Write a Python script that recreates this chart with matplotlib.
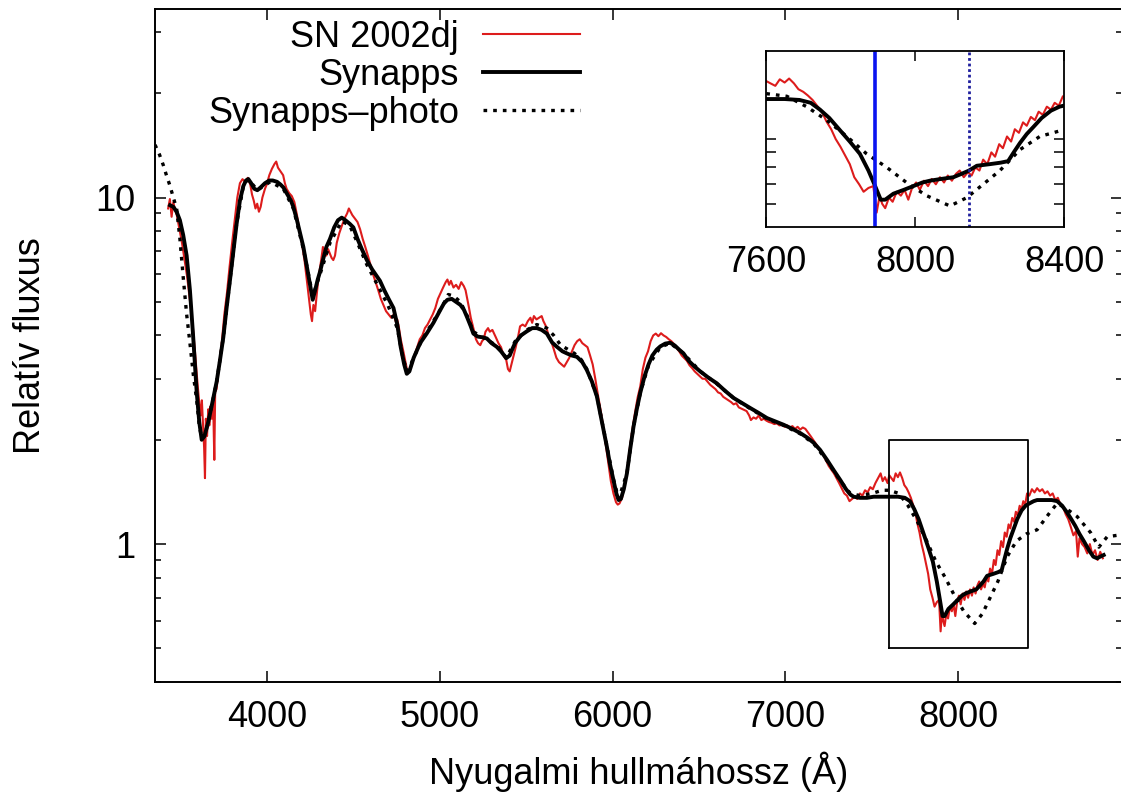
import matplotlib
matplotlib.use("Agg")
import matplotlib.pyplot as plt
from matplotlib.ticker import LogLocator, NullFormatter, FixedLocator, ScalarFormatter

plt.rcParams["font.family"] = ["Liberation Sans", "DejaVu Sans"]

sn2002dj = [
    (3430, 9.3), (3440, 9.9), (3450, 8.8), (3460, 9.7), (3470, 9.2), (3480, 8.9),
    (3495, 8.1), (3510, 7.4), (3525, 6.6), (3540, 5.9), (3555, 5.1), (3570, 4.4),
    (3585, 3.6), (3600, 2.9), (3610, 2.55), (3618, 2.35), (3625, 2.6), (3632, 2.2),
    (3638, 1.9), (3643, 1.55), (3648, 2.3), (3655, 2.05), (3662, 2.45), (3668, 2.2),
    (3675, 2.5), (3682, 2.3), (3690, 2.6), (3697, 1.75), (3702, 2.75), (3710, 2.8),
    (3725, 3.3), (3740, 3.8), (3755, 4.6), (3770, 5.3), (3785, 6.3), (3800, 7.4),
    (3815, 8.6), (3830, 10.0), (3845, 11.0), (3860, 11.3), (3875, 11.1), (3890, 11.4),
    (3905, 10.9), (3915, 10.2), (3925, 9.8), (3935, 9.3), (3945, 9.6), (3955, 9.1),
    (3965, 9.4), (3975, 10.0), (3990, 10.6), (4000, 10.9), (4015, 11.6), (4030, 12.1),
    (4045, 12.5), (4055, 12.7), (4065, 12.2), (4080, 11.9), (4095, 11.6), (4105, 11.0),
    (4115, 10.6), (4130, 10.3), (4145, 10.1), (4160, 9.7), (4175, 8.9), (4190, 8.0),
    (4205, 7.3), (4220, 6.5), (4235, 5.6), (4245, 5.1), (4255, 4.6), (4262, 4.4),
    (4270, 4.9), (4280, 4.7), (4290, 5.3), (4300, 5.9), (4315, 6.6), (4325, 7.2),
    (4335, 7.0), (4345, 6.8), (4355, 7.1), (4365, 6.9), (4375, 6.7), (4385, 6.6),
    (4395, 6.8), (4405, 7.4), (4420, 7.9), (4435, 8.3), (4450, 8.7), (4465, 9.0),
    (4475, 9.3), (4485, 9.1), (4495, 8.9), (4510, 8.7), (4525, 8.5), (4540, 8.1),
    (4555, 7.6), (4570, 7.2), (4585, 6.8), (4600, 6.4), (4615, 6.0), (4630, 5.7),
    (4645, 5.4), (4660, 5.1), (4675, 4.9), (4690, 4.7), (4705, 4.6), (4720, 4.5),
    (4735, 4.6), (4745, 4.4), (4755, 4.45), (4765, 4.2), (4775, 3.9), (4790, 3.6),
    (4805, 3.3), (4815, 3.12), (4825, 3.15), (4840, 3.3), (4855, 3.5), (4870, 3.7),
    (4885, 3.9), (4900, 4.0), (4915, 4.2), (4930, 4.3), (4945, 4.45), (4960, 4.6),
    (4975, 4.8), (4990, 5.1), (5005, 5.3), (5020, 5.5), (5035, 5.7), (5045, 5.8),
    (5055, 5.6), (5065, 5.75), (5080, 5.5), (5095, 5.6), (5110, 5.45), (5125, 5.7),
    (5140, 5.55), (5150, 5.4), (5160, 5.1), (5170, 4.8), (5180, 4.5), (5195, 4.2),
    (5210, 3.9), (5222, 3.8), (5235, 3.75), (5245, 3.85), (5255, 3.9), (5265, 4.1),
    (5280, 4.2), (5290, 4.1), (5305, 4.15), (5315, 4.05), (5325, 3.95), (5340, 3.8),
    (5355, 3.7), (5370, 3.5), (5385, 3.4), (5395, 3.2), (5405, 3.15), (5415, 3.3),
    (5425, 3.45), (5440, 3.7), (5455, 4.0), (5465, 4.25), (5480, 4.3), (5495, 4.25),
    (5510, 4.4), (5525, 4.5), (5535, 4.35), (5545, 4.55), (5560, 4.45), (5575, 4.5),
    (5590, 4.55), (5600, 4.4), (5615, 4.25), (5630, 4.0), (5645, 3.85), (5660, 3.65),
    (5675, 3.45), (5690, 3.35), (5705, 3.3), (5720, 3.25), (5735, 3.35), (5750, 3.45),
    (5765, 3.6), (5780, 3.75), (5795, 3.85), (5810, 3.9), (5825, 3.8), (5840, 3.75),
    (5855, 3.7), (5870, 3.5), (5885, 3.3), (5900, 3.0), (5915, 2.7), (5930, 2.45),
    (5945, 2.2), (5960, 1.95), (5975, 1.72), (5990, 1.52), (6005, 1.40), (6020, 1.32),
    (6030, 1.30), (6040, 1.31), (6055, 1.36), (6070, 1.48), (6085, 1.65), (6100, 1.9),
    (6115, 2.15), (6130, 2.4), (6145, 2.65), (6160, 2.85), (6175, 3.2), (6190, 3.45),
    (6205, 3.6), (6220, 3.85), (6235, 4.0), (6250, 4.05), (6265, 3.98), (6280, 4.06),
    (6295, 4.0), (6310, 3.96), (6325, 3.9), (6340, 3.85), (6355, 3.78), (6370, 3.68),
    (6385, 3.6), (6400, 3.5), (6415, 3.44), (6430, 3.38), (6445, 3.28), (6460, 3.22),
    (6475, 3.15), (6490, 3.1), (6505, 3.05), (6520, 3.0), (6535, 3.0), (6550, 2.94),
    (6565, 2.88), (6580, 2.84), (6595, 2.8), (6610, 2.74), (6625, 2.72), (6640, 2.66),
    (6655, 2.63), (6670, 2.6), (6685, 2.57), (6700, 2.53), (6715, 2.55), (6730, 2.48),
    (6745, 2.46), (6760, 2.44), (6775, 2.42), (6790, 2.35), (6800, 2.28), (6815, 2.32),
    (6830, 2.3), (6845, 2.35), (6860, 2.28), (6875, 2.3), (6890, 2.27), (6905, 2.25),
    (6920, 2.24), (6935, 2.22), (6950, 2.23), (6965, 2.2), (6980, 2.21), (6995, 2.18),
    (7010, 2.2), (7025, 2.17), (7040, 2.19), (7055, 2.15), (7070, 2.18), (7085, 2.14),
    (7100, 2.17), (7115, 2.15), (7130, 2.1), (7145, 2.05), (7160, 2.0), (7175, 1.95),
    (7190, 1.9), (7205, 1.85), (7220, 1.8), (7235, 1.74), (7250, 1.68), (7265, 1.64),
    (7280, 1.6), (7295, 1.55), (7310, 1.5), (7325, 1.45), (7340, 1.40), (7355, 1.38),
    (7370, 1.33), (7385, 1.35), (7400, 1.37), (7415, 1.35), (7430, 1.40), (7445, 1.38),
    (7460, 1.43), (7475, 1.41), (7490, 1.46), (7505, 1.44), (7520, 1.50), (7535, 1.55),
    (7550, 1.60), (7562, 1.52), (7575, 1.56), (7590, 1.50), (7600, 1.58), (7612, 1.55),
    (7625, 1.52), (7637, 1.60), (7650, 1.56), (7662, 1.61), (7675, 1.55), (7687, 1.48),
    (7700, 1.45), (7712, 1.41), (7725, 1.36), (7737, 1.30), (7750, 1.24), (7762, 1.15),
    (7775, 1.08), (7787, 1.00), (7800, 0.94), (7812, 0.88), (7825, 0.82), (7837, 0.74),
    (7850, 0.70), (7862, 0.66), (7875, 0.68), (7888, 0.69), (7897, 0.56), (7905, 0.64),
    (7912, 0.60), (7920, 0.58), (7930, 0.63), (7940, 0.61), (7951, 0.66), (7962, 0.64),
    (7972, 0.67), (7982, 0.62), (7992, 0.68), (8003, 0.71), (8013, 0.67), (8024, 0.72),
    (8035, 0.69), (8045, 0.73), (8056, 0.70), (8067, 0.74), (8078, 0.71), (8088, 0.75),
    (8099, 0.72), (8110, 0.76), (8120, 0.78), (8131, 0.74), (8142, 0.77), (8152, 0.75),
    (8162, 0.80), (8173, 0.78), (8183, 0.85), (8194, 0.82), (8205, 0.90), (8215, 0.87),
    (8226, 0.96), (8236, 0.93), (8247, 1.02), (8258, 0.98), (8268, 1.08), (8279, 1.05),
    (8290, 1.14), (8300, 1.11), (8311, 1.19), (8322, 1.16), (8332, 1.24), (8343, 1.21),
    (8354, 1.29), (8365, 1.26), (8375, 1.33), (8386, 1.30), (8397, 1.40), (8410, 1.38),
    (8425, 1.44), (8440, 1.41), (8455, 1.45), (8470, 1.42), (8485, 1.44), (8500, 1.40),
    (8515, 1.42), (8530, 1.38), (8545, 1.40), (8560, 1.34), (8575, 1.36), (8590, 1.30),
    (8605, 1.28), (8620, 1.22), (8635, 1.18), (8650, 1.12), (8665, 1.06), (8680, 1.09),
    (8690, 0.92), (8700, 1.04), (8715, 1.00), (8730, 0.98), (8745, 0.94), (8760, 1.00),
    (8775, 0.93), (8790, 0.96), (8805, 0.90), (8820, 0.95), (8835, 0.91),
]

# Synapps fit
synapps = [
    (3441, 9.5), (3460, 9.4), (3479, 9.1), (3498, 8.6), (3517, 7.8), (3537, 6.8),
    (3556, 5.4), (3575, 3.95), (3595, 2.75), (3610, 2.25), (3624, 2.0), (3640, 2.05),
    (3662, 2.25), (3685, 2.55), (3711, 2.95), (3730, 3.4), (3749, 3.95), (3768, 4.8),
    (3788, 5.8), (3807, 7.0), (3826, 8.4), (3845, 9.8), (3865, 10.8), (3880, 11.2),
    (3894, 11.3), (3910, 11.0), (3928, 10.6), (3946, 10.5), (3965, 10.7), (3990, 11.0),
    (4015, 11.2), (4035, 11.2), (4060, 11.1), (4080, 10.9), (4096, 10.7), (4120, 10.2),
    (4140, 9.8), (4154, 9.4), (4175, 8.6), (4195, 7.8), (4212, 7.2), (4230, 6.4),
    (4245, 5.8), (4256, 5.4), (4266, 5.07), (4280, 5.4), (4295, 5.8), (4308, 6.1),
    (4325, 6.6), (4345, 7.2), (4366, 7.6), (4390, 8.2), (4412, 8.6), (4434, 8.75),
    (4455, 8.6), (4480, 8.4), (4501, 8.2), (4525, 7.6), (4550, 7.1), (4579, 6.6),
    (4610, 6.2), (4640, 5.9), (4655, 5.75), (4680, 5.4), (4705, 5.1), (4733, 4.8),
    (4755, 4.3), (4775, 3.7), (4795, 3.3), (4810, 3.1), (4825, 3.15), (4850, 3.45),
    (4887, 3.8), (4925, 4.05), (4964, 4.35), (5000, 4.7), (5025, 4.95), (5045, 5.07),
    (5070, 5.1), (5095, 5.0), (5120, 4.9), (5140, 4.75), (5160, 4.5), (5180, 4.25),
    (5195, 4.05), (5220, 3.97), (5250, 3.95), (5273, 3.92), (5300, 3.8), (5330, 3.71),
    (5355, 3.6), (5385, 3.44), (5405, 3.5), (5420, 3.65), (5437, 3.81), (5470, 4.0),
    (5504, 4.11), (5535, 4.2), (5562, 4.2), (5590, 4.15), (5620, 4.05), (5650, 3.82),
    (5678, 3.71), (5710, 3.6), (5736, 3.55), (5765, 3.5), (5794, 3.47), (5825, 3.35),
    (5851, 3.18), (5880, 2.95), (5909, 2.67), (5935, 2.3), (5955, 2.05), (5967, 1.91),
    (5985, 1.70), (6005, 1.53), (6022, 1.40), (6035, 1.34), (6048, 1.35), (6065, 1.44),
    (6083, 1.60), (6100, 1.85), (6121, 2.18), (6140, 2.45), (6160, 2.73), (6185, 3.05),
    (6208, 3.3), (6230, 3.5), (6255, 3.64), (6276, 3.72), (6305, 3.79), (6333, 3.81),
    (6360, 3.74), (6385, 3.64), (6410, 3.55), (6440, 3.38), (6475, 3.25), (6507, 3.15),
    (6555, 3.02), (6603, 2.91), (6650, 2.77), (6700, 2.64), (6750, 2.55), (6796, 2.47),
    (6845, 2.39), (6893, 2.31), (6940, 2.26), (6989, 2.21), (7040, 2.15), (7086, 2.09),
    (7125, 2.03), (7163, 1.96), (7200, 1.87), (7240, 1.75), (7280, 1.63), (7317, 1.53),
    (7350, 1.44), (7375, 1.39), (7394, 1.37), (7430, 1.36), (7471, 1.36), (7510, 1.37),
    (7549, 1.37), (7580, 1.37), (7607, 1.37), (7650, 1.37), (7690, 1.36), (7720, 1.33),
    (7745, 1.26), (7770, 1.18), (7799, 1.07), (7825, 0.98), (7852, 0.89), (7875, 0.78),
    (7893, 0.69), (7908, 0.62), (7920, 0.62), (7942, 0.65), (7970, 0.67), (7995, 0.69),
    (8020, 0.71), (8040, 0.72), (8070, 0.73), (8103, 0.74), (8125, 0.76), (8145, 0.78),
    (8166, 0.81), (8200, 0.82), (8230, 0.83), (8250, 0.84), (8265, 0.90), (8282, 0.97),
    (8300, 1.04), (8318, 1.10), (8340, 1.18), (8365, 1.25), (8388, 1.29), (8410, 1.31),
    (8435, 1.33), (8455, 1.34), (8500, 1.34), (8540, 1.34), (8571, 1.33), (8600, 1.29),
    (8625, 1.24), (8648, 1.19), (8675, 1.13), (8700, 1.07), (8725, 1.02), (8755, 0.96),
    (8780, 0.92), (8802, 0.91), (8820, 0.92), (8840, 0.93),
]

# Synapps fit with photospheric component only
synapps_photo = [
    (3354, 14.2), (3380, 13.3), (3402, 12.4), (3420, 11.6), (3441, 10.8), (3460, 10.0),
    (3479, 9.3), (3498, 7.6), (3517, 5.9), (3537, 4.6), (3556, 3.8), (3575, 3.1),
    (3595, 2.6), (3610, 2.2), (3624, 2.02), (3640, 2.05), (3662, 2.25), (3685, 2.55),
    (3711, 2.95), (3749, 3.95), (3788, 5.8), (3826, 8.4), (3865, 10.8), (3894, 11.3),
    (3946, 10.5), (4020, 11.1), (4096, 10.6), (4154, 9.3), (4212, 7.1), (4245, 5.9),
    (4266, 5.2), (4308, 6.0), (4366, 7.4), (4434, 8.55), (4480, 8.3), (4525, 7.4),
    (4579, 6.4), (4640, 5.6), (4700, 4.9), (4755, 4.2), (4790, 3.4), (4815, 3.15),
    (4850, 3.45), (4900, 3.9), (4964, 4.4), (5020, 4.9), (5050, 5.25), (5080, 5.2),
    (5120, 5.0), (5160, 4.55), (5195, 4.1), (5250, 3.95), (5300, 3.82), (5340, 3.7),
    (5385, 3.45), (5437, 3.85), (5504, 4.15), (5562, 4.3), (5620, 4.2), (5660, 4.0),
    (5700, 3.75), (5740, 3.65), (5780, 3.55), (5820, 3.4), (5851, 3.2), (5909, 2.68),
    (5967, 1.92), (6005, 1.54), (6035, 1.35), (6083, 1.60), (6121, 2.18), (6160, 2.73),
    (6208, 3.28), (6276, 3.70), (6333, 3.80), (6410, 3.55), (6507, 3.15), (6603, 2.90),
    (6700, 2.64), (6796, 2.46), (6893, 2.30), (6989, 2.20), (7086, 2.08), (7163, 1.95),
    (7240, 1.74), (7317, 1.52), (7375, 1.40), (7430, 1.38), (7500, 1.40), (7560, 1.43),
    (7600, 1.43), (7656, 1.40), (7709, 1.29), (7763, 1.16), (7817, 1.02), (7870, 0.89),
    (7924, 0.80), (7977, 0.71), (8031, 0.64), (8094, 0.59), (8139, 0.63), (8183, 0.70),
    (8228, 0.78), (8282, 0.92), (8335, 1.02), (8393, 1.07), (8455, 1.10), (8532, 1.24),
    (8571, 1.31), (8620, 1.27), (8687, 1.20), (8764, 1.08), (8812, 0.98), (8860, 1.05),
    (8918, 1.06),
]

zoom_box = (7600, 8400, 0.5, 2.0)
marker_lines = [7892, 8146]

RED = "#dd1c1c"
FS = 26


def unzip(pairs):
    return [p[0] for p in pairs], [p[1] for p in pairs]


def draw_spectra(ax, labels=True):
    w, f = unzip(sn2002dj)
    ax.plot(w, f, color=RED, lw=1.5, label="SN 2002dj" if labels else None)
    w, f = unzip(synapps)
    ax.plot(w, f, color="black", lw=2.8, label="Synapps" if labels else None)
    w, f = unzip(synapps_photo)
    ax.plot(w, f, color="black", lw=2.4, dashes=(1.1, 1.8),
            label="Synapps\u2013photo" if labels else None)


def main():
    fig = plt.figure(figsize=(11.21, 7.96), dpi=100)
    ax = fig.add_axes([155 / 1121, 1 - 682 / 796, 966.5 / 1121, 673 / 796])

    draw_spectra(ax)

    x0, x1, y0, y1 = zoom_box
    ax.plot([x0, x1, x1, x0, x0], [y0, y0, y1, y1, y0], color="black", lw=1.3)

    ax.set_yscale("log")
    ax.set_xlim(3354, 8943)
    ax.set_ylim(0.40, 35.0)
    ax.set_xticks([4000, 5000, 6000, 7000, 8000])
    ax.yaxis.set_major_locator(FixedLocator([1, 10]))
    ax.yaxis.set_major_formatter(ScalarFormatter())
    ax.yaxis.set_minor_locator(LogLocator(base=10, subs=range(2, 10)))
    ax.yaxis.set_minor_formatter(NullFormatter())
    ax.tick_params(which="both", direction="in", top=True, right=True, width=1.1)
    ax.tick_params(which="major", length=8, labelsize=FS)
    ax.tick_params(which="minor", length=4.5)
    ax.tick_params(axis="x", pad=13)
    ax.tick_params(axis="y", pad=14)
    for s in ax.spines.values():
        s.set_linewidth(1.4)

    ax.set_xlabel("Nyugalmi hullmáhossz (Å)", fontsize=FS, labelpad=12)
    ax.set_ylabel("Relatív fluxus", fontsize=FS, labelpad=34)

    ax.legend(loc="upper right", bbox_to_anchor=(580 / 1121, 1 - 20 / 796),
              bbox_transform=fig.transFigure, frameon=False, fontsize=FS,
              markerfirst=False, handlelength=2.7, handletextpad=0.65,
              labelspacing=0.08, borderpad=0, borderaxespad=0)

    # inset
    axi = fig.add_axes([766 / 1121, 1 - 227 / 796, 298 / 1121, 176 / 796])
    draw_spectra(axi, labels=False)
    for i, xv in enumerate(marker_lines):
        if i == 0:
            axi.axvline(xv, color="#0a14f0", lw=2.6)
        else:
            axi.axvline(xv, color="#1f1f9e", lw=2.0, dashes=(1, 1.0))
    axi.set_yscale("log")
    axi.set_xlim(x0, x1)
    axi.set_ylim(y0, y1)
    axi.set_xticks([7600, 8000, 8400])
    axi.yaxis.set_major_locator(FixedLocator([0.6, 0.7, 0.8, 0.9, 1.0]))
    axi.yaxis.set_major_formatter(NullFormatter())
    axi.yaxis.set_minor_locator(FixedLocator([]))
    axi.tick_params(which="both", direction="in", top=True, right=True, width=1.1,
                    length=7.5, labelsize=FS)
    axi.tick_params(axis="x", pad=13)
    for s in axi.spines.values():
        s.set_linewidth(1.3)

    fig.savefig("out.png", dpi=100)
    plt.close(fig)


if __name__ == "__main__":
    main()
